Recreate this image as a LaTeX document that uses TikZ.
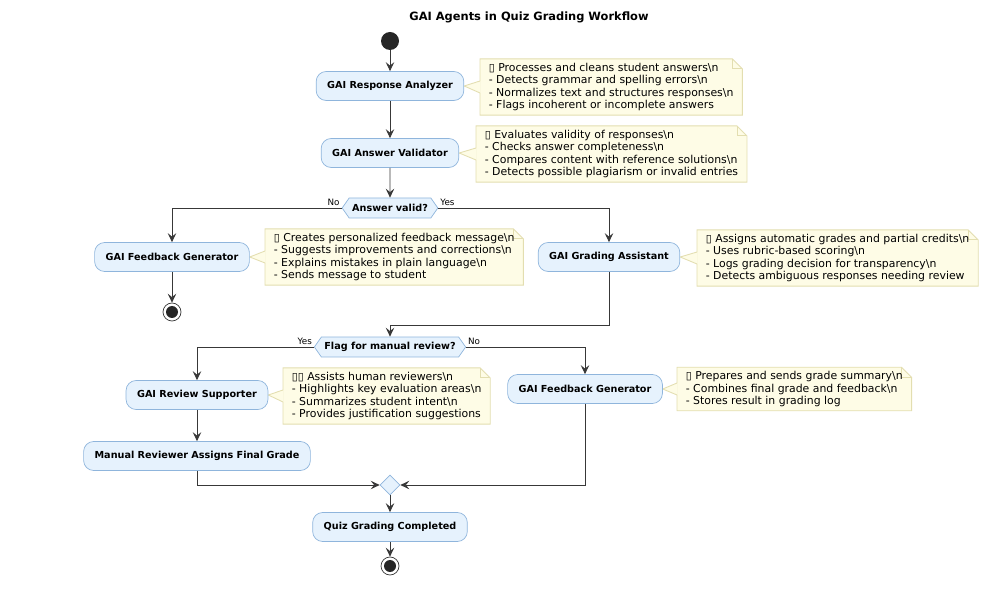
\documentclass[tikz,border=0pt]{standalone}
\usepackage{fontspec}
\setmainfont{DejaVu Sans}
\usepackage{xcolor}
\usetikzlibrary{shapes.geometric, shapes.symbols, arrows.meta, positioning, calc, backgrounds}

\definecolor{actfill}{HTML}{E6F2FD}
\definecolor{actline}{HTML}{8FB5DC}
\definecolor{notefill}{HTML}{FEFCE6}
\definecolor{noteline}{HTML}{E3DEB0}
\definecolor{flowline}{HTML}{383838}

\begin{document}
\begin{tikzpicture}[
    x=0.02cm, y=-0.02cm,
    act/.style={rectangle, draw=actline, fill=actfill, rounded corners=0.2cm, minimum height=0.58cm, inner xsep=0.22cm, font=\fontsize{5.5}{6.6}\selectfont\bfseries},
    choice/.style={signal, signal to=west and east, signal pointer angle=110, draw=actline, fill=actfill, minimum height=0.4cm, inner xsep=0.06cm, inner ysep=0pt, font=\fontsize{5.5}{6.6}\selectfont\bfseries},
    merge/.style={diamond, draw=actline, fill=actfill, minimum size=0.4cm, inner sep=0pt},
    start/.style={circle, fill=black!85, minimum size=0.36cm, inner sep=0pt},
    stop/.style={circle, draw=flowline, fill=white, minimum size=0.36cm, inner sep=0pt, path picture={\fill[black!85] (path picture bounding box.center) circle (0.12cm);}},
    note/.style={anchor=west, align=left, inner xsep=0.17cm, inner ysep=0.07cm, font=\fontsize{6.2}{7.2}\selectfont},
    guard/.style={font=\fontsize{5}{6}\selectfont, inner sep=1pt},
    arrow/.style={-{Stealth[length=0.18cm, width=0.17cm, inset=0.07cm]}, draw=flowline, line width=0.5pt}
]
\useasboundingbox (0,0) rectangle (1000,607);

% Title
\node[font=\fontsize{6.5}{8}\selectfont\bfseries] (title) at (529,17) {GAI Agents in Quiz Grading Workflow};

% Nodes
\node[start] (init) at (390,41) {};
\node[act] (analyzer) at (390,86) {GAI Response Analyzer};
\node[act] (validator) at (390,153) {GAI Answer Validator};
\node[choice] (valid) at (390,208) {Answer valid?};
\node[act] (feedback) at (172,257) {GAI Feedback Generator};
\node[stop] (endfb) at (172,312) {};
\node[act] (grading) at (609,257) {GAI Grading Assistant};
\node[choice] (flag) at (390,347) {Flag for manual review?};
\node[act] (supporter) at (197,395) {GAI Review Supporter};
\node[act] (manual) at (197,456) {Manual Reviewer Assigns Final Grade};
\node[act] (summary) at (585,389) {GAI Feedback Generator};
\node[merge] (join) at (390,485) {};
\node[act] (done) at (390,527) {Quiz Grading Completed};
\node[stop] (final) at (390,566) {};

% Notes
\node[note] (nanalyzer) at (480,87) {▯ Processes and cleans student answers\textbackslash n\\
- Detects grammar and spelling errors\textbackslash n\\
- Normalizes text and structures responses\textbackslash n\\
- Flags incoherent or incomplete answers};
\node[note] (nvalidator) at (476,154) {▯ Evaluates validity of responses\textbackslash n\\
- Checks answer completeness\textbackslash n\\
- Compares content with reference solutions\textbackslash n\\
- Detects possible plagiarism or invalid entries};
\node[note] (nfeedback) at (265,257) {▯ Creates personalized feedback message\textbackslash n\\
- Suggests improvements and corrections\textbackslash n\\
- Explains mistakes in plain language\textbackslash n\\
- Sends message to student};
\node[note] (ngrading) at (697,258) {▯ Assigns automatic grades and partial credits\textbackslash n\\
- Uses rubric-based scoring\textbackslash n\\
- Logs grading decision for transparency\textbackslash n\\
- Detects ambiguous responses needing review};
\node[note] (nsupporter) at (283,396) {▯▯ Assists human reviewers\textbackslash n\\
- Highlights key evaluation areas\textbackslash n\\
- Summarizes student intent\textbackslash n\\
- Provides justification suggestions};
\node[note] (nsummary) at (677,389) {▯ Prepares and sends grade summary\textbackslash n\\
- Combines final grade and feedback\textbackslash n\\
- Stores result in grading log};

% Note outlines with folded corner and pointer
\begin{scope}[on background layer]
\foreach \nt/\bx in {nanalyzer/analyzer, nvalidator/validator, nfeedback/feedback, ngrading/grading, nsupporter/supporter, nsummary/summary} {
    \filldraw[draw=noteline, fill=notefill, line width=0.5pt] (\nt.north west) -- ($(\nt.north east)+(-10,0)$) -- ($(\nt.north east)+(0,10)$) -- (\nt.south east) -- (\nt.south west) -- cycle;
    \draw[noteline, line width=0.5pt] ($(\nt.north east)+(-10,0)$) |- ($(\nt.north east)+(0,10)$);
    \fill[notefill] (\bx.east) -- ($(\nt.west)+(0.6,-6)$) -- ($(\nt.west)+(0.6,6)$) -- cycle;
    \draw[noteline, line width=0.5pt] ($(\nt.west)+(0,-6)$) -- (\bx.east) -- ($(\nt.west)+(0,6)$);
}
\end{scope}

% Guards
\node[guard, anchor=south east] (vno) at (valid.west) {No};
\node[guard, anchor=south west] (vyes) at (valid.east) {Yes};
\node[guard, anchor=south east] (fyes) at (flag.west) {Yes};
\node[guard, anchor=south west] (fno) at (flag.east) {No};

% Arrows
\coordinate (back) at (390,325);
\draw[arrow] (init) -- (analyzer);
\draw[arrow] (analyzer) -- (validator);
\draw[arrow] (validator) -- (valid);
\draw[arrow] (valid.west) -| (feedback.north);
\draw[arrow] (valid.east) -| (grading.north);
\draw[arrow] (feedback) -- (endfb);
\draw[arrow] (grading.south) |- (back) -- (flag.north);
\draw[arrow] (flag.west) -| (supporter.north);
\draw[arrow] (flag.east) -| (summary.north);
\draw[arrow] (supporter) -- (manual);
\draw[arrow] (manual.south) |- (join.west);
\draw[arrow] (summary.south) |- (join.east);
\draw[arrow] (join) -- (done);
\draw[arrow] (done) -- (final);

\end{tikzpicture}
\end{document}
